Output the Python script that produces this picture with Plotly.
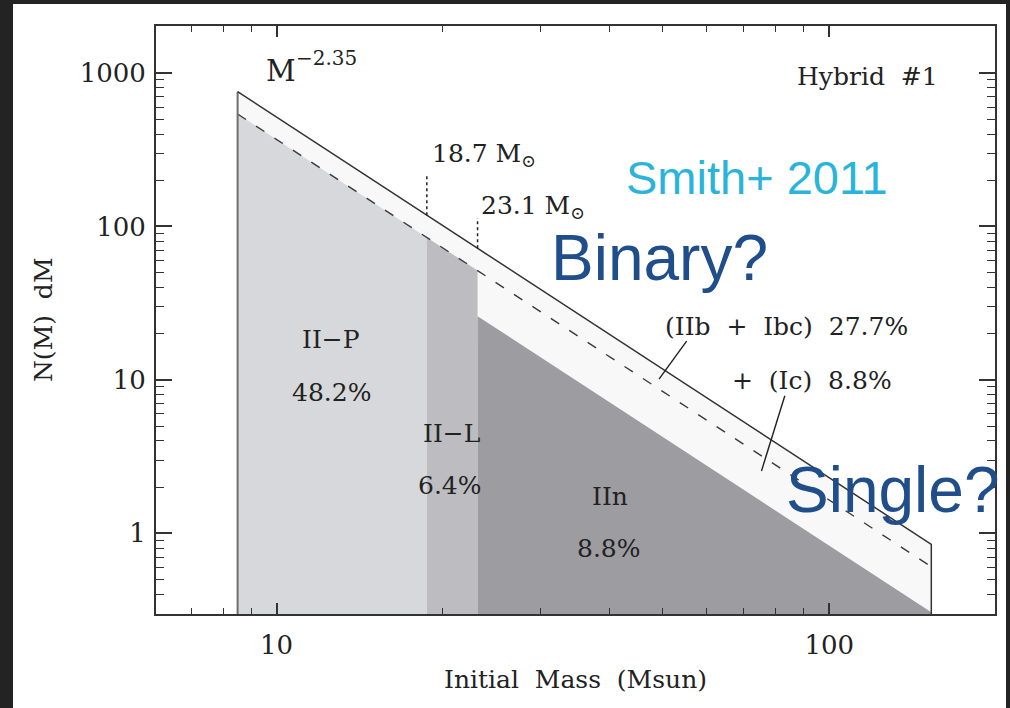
import numpy as np
import plotly.graph_objects as go

# ---- model: power-law IMF split into SN subtypes (hybrid scenario #1) ----
IMF_SLOPE = -2.35                 # N(M) dM ~ M^-2.35
M_LOW = 8.5                       # lowest initial mass for core collapse (Msun)
M_HIGH = 153.0                    # upper mass cut (Msun)
M_SPLITS = [18.7, 23.1]           # II-P/II-L and II-L/IIn boundaries (Msun)
N_TOTAL_AT_LOW = 755.0            # solid curve (all CCSNe) at M_LOW
N_DASHED_AT_LOW = 540.0           # dashed curve (H-rich share) at M_LOW
N_IIN_AT_SPLIT = 26.0             # top of the IIn wedge at the 23.1 Msun split
MARKER_TOPS = [213.0, 113.5]      # upper ends of the dotted boundary markers

REGION_NAMES = ["II\u2212P", "II\u2212L", "IIn"]
REGION_FRACTIONS = ["48.2%", "6.4%", "8.8%"]
STRIPPED_LABELS = ["(IIb\u00a0 +\u00a0 Ibc)\u00a0 27.7%", "+\u00a0 (Ic)\u00a0 8.8%"]

X_RANGE = [6.05, 199.5]
Y_RANGE = [0.298, 2023.0]
X_TICKS = [10, 100]
Y_TICKS = [1, 10, 100, 1000]

# pointer lines for the stripped-envelope labels: (mass, N) start -> end
LEADERS = [((55.2, 17.9), (49.2, 10.1)), ((83.1, 7.87), (75.4, 2.55))]

# ---- page geometry ----
W, H = 1010, 708
ML, MR, MT, MB = 156, 15, 26, 94
PW, PH = W - ML - MR, H - MT - MB

SERIF = "DejaVu Serif"
SANS = "Liberation Sans"
INK = "#222222"


def imf(m, n_ref, m_ref=M_LOW):
    return n_ref * (np.asarray(m, dtype=float) / m_ref) ** IMF_SLOPE


def paper(px, py):
    return (px - ML) / PW, (H - MB - py) / PH


floor = Y_RANGE[0] * 0.5
m_a, m_b = M_SPLITS

total = lambda m: imf(m, N_TOTAL_AT_LOW)
dashed = lambda m: imf(m, N_DASHED_AT_LOW)
iin = lambda m: imf(m, N_IIN_AT_SPLIT, m_b)

fig = go.Figure()


def band(x0, x1, top, color):
    fig.add_trace(go.Scatter(
        x=[x0, x0, x1, x1], y=[floor, float(top(x0)), float(top(x1)), floor],
        mode="lines", fill="toself", fillcolor=color,
        line=dict(width=0), hoverinfo="skip", showlegend=False))


# filled regions
band(M_LOW, M_HIGH, total, "#f8f8f8")      # stripped-envelope share
band(M_LOW, m_a, dashed, "#d7d8db")        # II-P
band(m_a, m_b, dashed, "#bdbdc1")          # II-L
band(m_b, M_HIGH, iin, "#9d9ca0")          # IIn

# dashed curve
fig.add_trace(go.Scatter(
    x=[M_LOW, M_HIGH], y=dashed([M_LOW, M_HIGH]), mode="lines",
    line=dict(color="#3a3a3a", width=1.4, dash="10px,12px"),
    hoverinfo="skip", showlegend=False))

# outline of the total distribution
fig.add_trace(go.Scatter(
    x=[M_LOW, M_LOW], y=[floor, float(total(M_LOW))], mode="lines",
    line=dict(color="#6e6e6e", width=2), hoverinfo="skip", showlegend=False))
fig.add_trace(go.Scatter(
    x=[M_LOW, M_HIGH, M_HIGH], y=[float(total(M_LOW)), float(total(M_HIGH)), floor],
    mode="lines", line=dict(color="#333333", width=1.5),
    hoverinfo="skip", showlegend=False))

# dotted markers at the mass splits
for m, top in zip(M_SPLITS, MARKER_TOPS):
    fig.add_trace(go.Scatter(
        x=[m, m], y=[float(total(m)), top], mode="lines",
        line=dict(color=INK, width=1.5, dash="3px,3px"),
        hoverinfo="skip", showlegend=False))

# pointer lines
for (m0, n0), (m1, n1) in LEADERS:
    fig.add_trace(go.Scatter(
        x=[m0, m1], y=[n0, n1], mode="lines",
        line=dict(color=INK, width=1.4), hoverinfo="skip", showlegend=False))

# ---- text ----
labels = [
    # text, px, py, size, color, family
    ("M", 281, 71, 29, INK, SERIF),
    ("\u22122.35", 326, 58, 20, INK, SERIF),
    ("Hybrid\u00a0 #1", 867, 76, 25, INK, SERIF),
    (f"{M_SPLITS[0]} M<sub>\u2299</sub>", 484, 155, 25, INK, SERIF),
    (f"{M_SPLITS[1]} M<sub>\u2299</sub>", 533, 207, 25, INK, SERIF),
    (REGION_NAMES[0], 331, 339, 25, INK, SERIF),
    (REGION_FRACTIONS[0], 331, 392, 25, INK, SERIF),
    (REGION_NAMES[1], 451, 433, 25, INK, SERIF),
    (REGION_FRACTIONS[1], 450, 485, 25, INK, SERIF),
    (REGION_NAMES[2], 610, 497, 25, INK, SERIF),
    (REGION_FRACTIONS[2], 609, 548, 25, INK, SERIF),
    (STRIPPED_LABELS[0], 786, 326, 25, INK, SERIF),
    (STRIPPED_LABELS[1], 812, 380, 25, INK, SERIF),
    ("Initial\u00a0 Mass\u00a0 (Msun)", 575, 679, 25, INK, SERIF),
    ("Smith+ 2011", 757, 178, 47, "#2ab4da", SANS),
    ("Binary?", 659, 258, 64, "#1f4e8b", SANS),
    ("Single?", 893, 490, 64, "#1f4e8b", SANS),
]
annotations = []
for text, px, py, size, color, family in labels:
    x, y = paper(px, py)
    annotations.append(dict(
        text=text, x=x, y=y, xref="paper", yref="paper",
        xanchor="center", yanchor="middle", showarrow=False,
        font=dict(family=family, size=size, color=color)))
x, y = paper(43, 320)
annotations.append(dict(
    text="N(M)\u00a0 dM", x=x, y=y, xref="paper", yref="paper", textangle=-90,
    xanchor="center", yanchor="middle", showarrow=False,
    font=dict(family=SERIF, size=25, color=INK)))


def minor_vals(lo, hi):
    vals = []
    for e in range(-2, 5):
        for k in range(2, 10):
            v = k * 10.0 ** e
            if lo <= v <= hi:
                vals.append(v)
    return vals


axis_style = dict(
    type="log", showline=True, linecolor="#333333", linewidth=1.8,
    mirror="ticks", ticks="inside", tickcolor="#333333", tickwidth=1.5,
    showgrid=False, zeroline=False,
    tickfont=dict(family=SERIF, size=26, color=INK))

# white sheet framed by the dark page border
x0, y1 = paper(13, 4)
x1, y0 = paper(1006, H)

fig.update_layout(
    width=W, height=H,
    margin=dict(l=ML, r=MR, t=MT, b=MB, pad=0),
    paper_bgcolor="#232323", plot_bgcolor="#ffffff",
    showlegend=False,
    shapes=[dict(type="rect", xref="paper", yref="paper",
                 x0=x0, x1=x1, y0=y0, y1=y1, layer="below",
                 fillcolor="#ffffff", line=dict(width=0))],
    annotations=annotations,
    xaxis=dict(**axis_style,
               range=[np.log10(X_RANGE[0]), np.log10(X_RANGE[1])],
               tickvals=X_TICKS, ticktext=[str(v) for v in X_TICKS],
               ticklen=11, ticklabelstandoff=7,
               minor=dict(tickvals=minor_vals(*X_RANGE), ticklen=6,
                          ticks="inside", tickcolor="#333333", tickwidth=1.3,
                          showgrid=False)),
    yaxis=dict(**axis_style,
               range=[np.log10(Y_RANGE[0]), np.log10(Y_RANGE[1])],
               tickvals=Y_TICKS, ticktext=[str(v) for v in Y_TICKS],
               ticklen=16, ticklabelstandoff=3,
               minor=dict(tickvals=minor_vals(*Y_RANGE), ticklen=8,
                          ticks="inside", tickcolor="#333333", tickwidth=1.3,
                          showgrid=False)),
)

fig.write_html("out.html")
